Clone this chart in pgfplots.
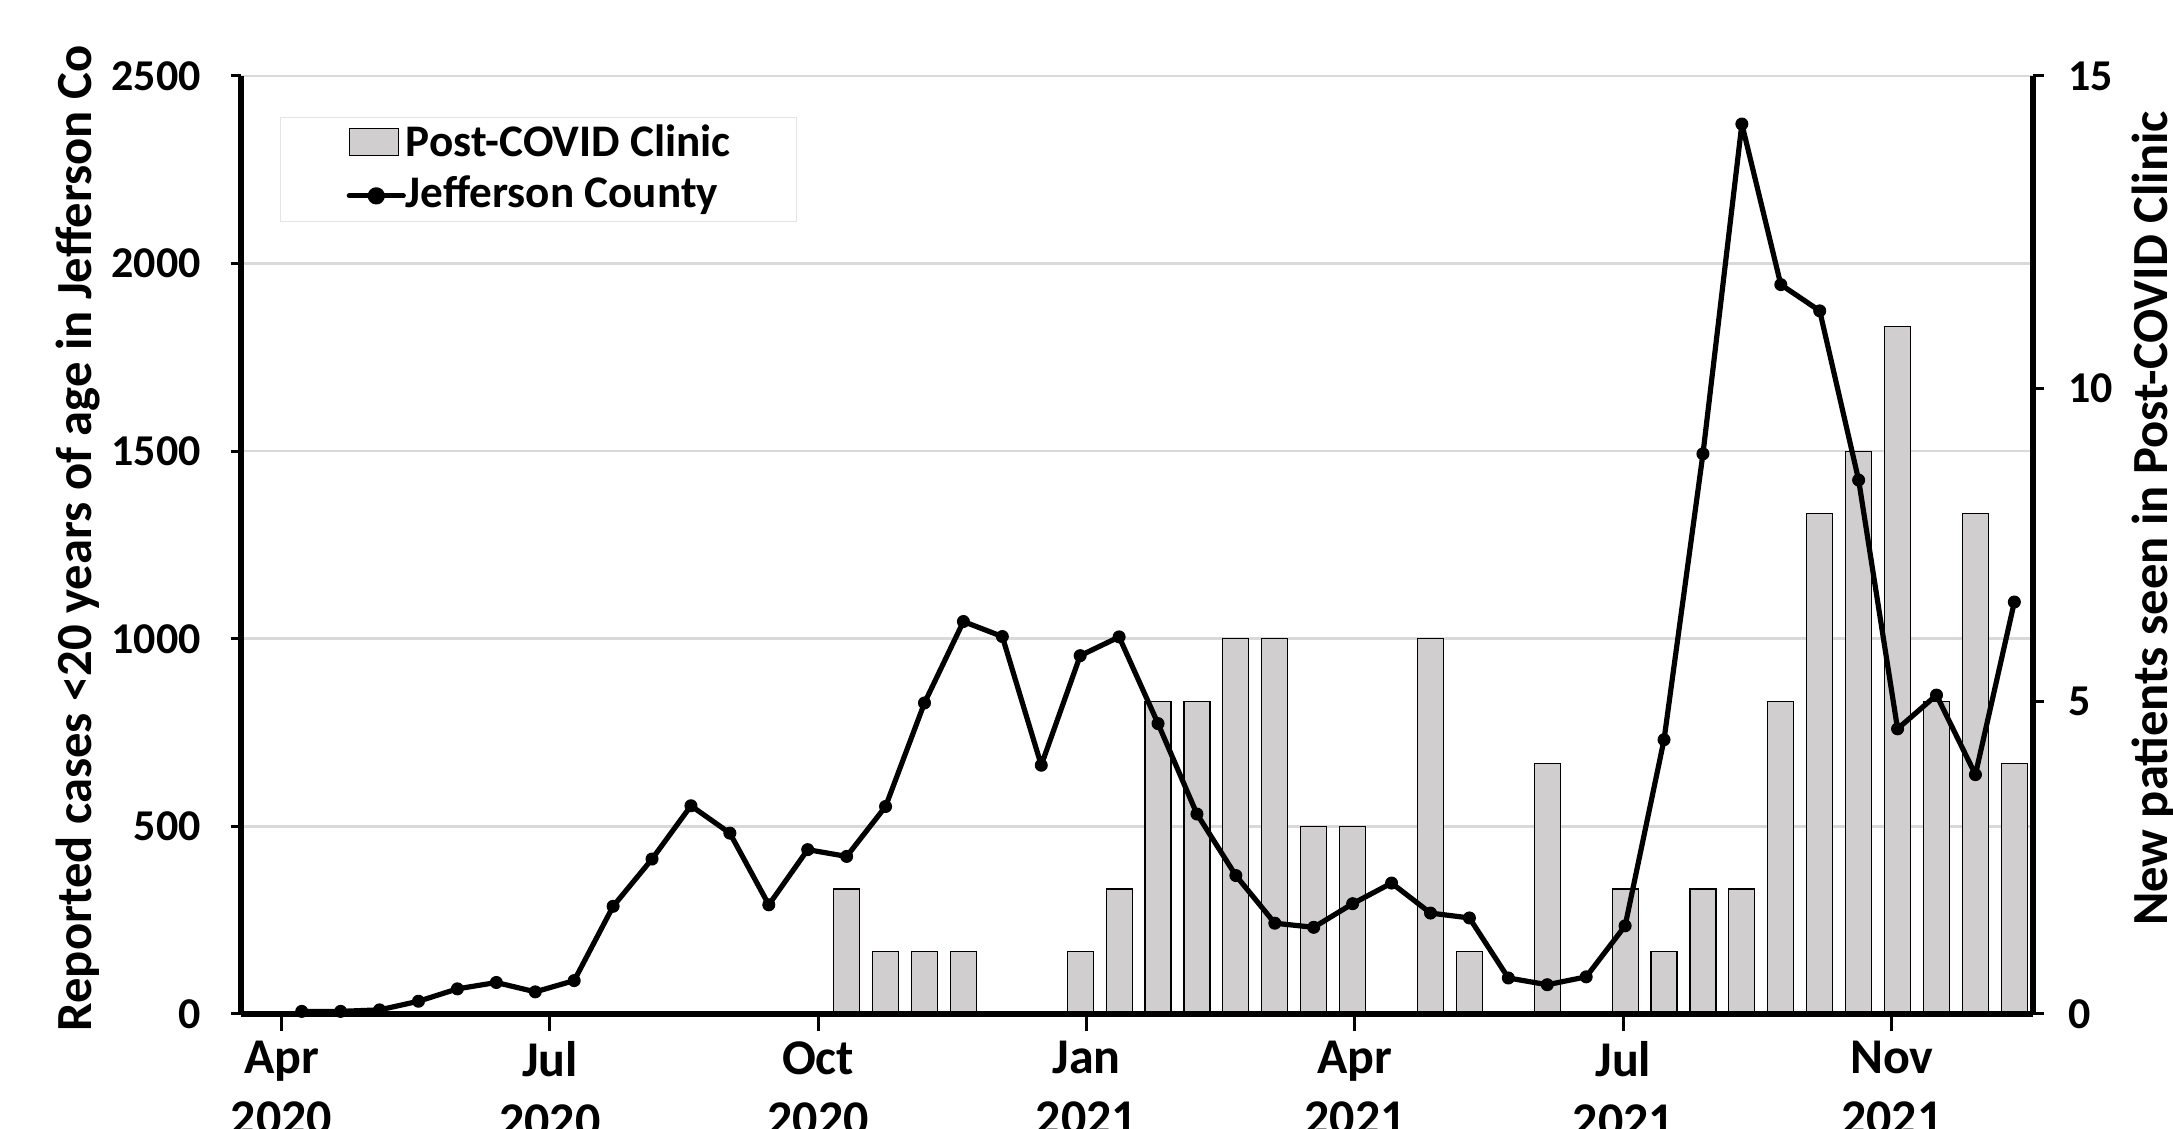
\documentclass[border=0pt]{standalone}
\usepackage{fontspec}
\setmainfont{Carlito}
\usepackage{pgfplots}
\usepackage{pgfplotstable}
\pgfplotsset{compat=1.18}
\definecolor{barfill}{RGB}{208,206,206}
\definecolor{gridc}{RGB}{217,217,217}
\definecolor{legc}{RGB}{228,228,228}

\pgfplotstableread{
x cases
0 7
1 7
2 11
3 34
4 67
5 84
6 59
7 89
8 287
9 413
10 555
11 482
12 291
13 438
14 420
15 553
16 829
17 1046
18 1006
19 663
20 955
21 1005
22 774
23 533
24 369
25 242
26 231
27 294
28 349
29 269
30 256
31 96
32 78
33 99
34 235
35 731
36 1493
37 2372
38 1944
39 1874
40 1423
41 760
42 850
43 638
44 1098
}\casetable

\pgfplotstableread{
x n
14 2
15 1
16 1
17 1
20 1
21 2
22 5
23 5
24 6
25 6
26 3
27 3
29 6
30 1
32 4
34 2
35 1
36 2
37 2
38 5
39 8
40 9
41 11
42 5
43 8
44 4
}\bartable

\begin{document}
\begin{tikzpicture}[font=\bfseries]
\path[use as bounding box] (0,0) rectangle (1086.5pt,564.5pt);
\clip (0,0) rectangle (1086.5pt,564.5pt);
\pgfplotsset{
  base/.style={scale only axis, width=896pt, height=469pt,
    at={(120.5pt,57.5pt)}, anchor=south west,
    xmin=-1.56, xmax=44.48, tick align=outside,
    axis line style={line width=2.6pt, black, -},
    /pgf/number format/assume math mode=true,
    /pgf/number format/1000 sep={}},
}
% Axis 1: left scale with gridlines
\begin{axis}[base,
  ymin=0, ymax=2500, ytick={0,500,1000,1500,2000,2500},
  ymajorgrids, grid style={gridc, line width=1.3pt},
  axis x line=none, axis y line*=left,
  xtick=\empty,
  major tick length=5pt,
  y tick style={line width=1.5pt, black},
  yticklabel style={font=\bfseries\fontsize{22}{24}\selectfont, inner sep=0pt, anchor=east, xshift=-15pt},
]
\end{axis}
% Axis 2: right scale with bars
\begin{axis}[base,
  ymin=0, ymax=15, ytick={0,5,10,15},
  axis x line=none, axis y line*=right,
  xtick=\empty,
  major tick length=5.5pt,
  y tick style={line width=1.5pt, black},
  yticklabel style={font=\bfseries\fontsize{22}{24}\selectfont, inner sep=0pt, anchor=west, xshift=12pt},
]
\addplot[ybar, bar width=13pt, fill=barfill, draw=black, line width=0.6pt] table[x=x, y=n] {\bartable};
\end{axis}
% Axis 3: line and x axis
\begin{axis}[base,
  ymin=0, ymax=2500,
  axis x line*=bottom, axis y line=none,
  ytick=\empty,
  clip=false,
  major tick length=8.5pt,
  x tick style={line width=1.5pt, black},
  xtick={-0.52,6.375,13.27,20.165,27.06,33.955,40.85},
  xticklabels={Apr\\2020,Jul\\2020,Oct\\2020,Jan\\2021,Apr\\2021,Jul\\2021,Nov\\2021},
  xticklabel style={align=center, font=\bfseries\fontsize{25}{30.5}\selectfont, inner sep=0pt, anchor=north, yshift=-5pt},
  legend style={at={(0.0218,0.956)}, anchor=north west, draw=legc, line width=0.6pt,
    font=\bfseries\fontsize{22.6}{26}\selectfont, inner xsep=33pt, inner ysep=2pt,
    nodes={inner sep=0pt, text height=17.5pt, text depth=5pt}, row sep=3pt,
    /tikz/every even column/.append style={column sep=1.5pt}},
  legend cell align=left,
]
\addlegendimage{legend image code/.code={\draw[fill=barfill, draw=black, line width=0.6pt] (0pt,-5.7pt) rectangle (24.5pt,7.8pt);}}
\addlegendentry{Post-COVID Clinic}
\addplot[black, line width=2.6pt, line join=round, line cap=round, mark=*, mark size=3pt, mark options={solid, fill=black, line width=0.5pt},
  legend image code/.code={\draw[black, line width=2.6pt] (0pt,-0.25pt) -- (27pt,-0.25pt); \fill[black] (13.5pt,-0.25pt) circle (3pt);}]
  table[x=x, y=cases] {\casetable};
\addlegendentry{Jefferson County}
\end{axis}
\node[rotate=90, font=\bfseries\fontsize{25.3}{30}\selectfont, inner sep=0pt] at (39.25pt,295.25pt) {Reported cases <20 years of age in Jefferson Co};
\node[rotate=90, font=\bfseries\fontsize{25.3}{30}\selectfont, inner sep=0pt] at (1076.7pt,305.25pt) {New patients seen in Post-COVID Clinic};
\end{tikzpicture}
\end{document}
